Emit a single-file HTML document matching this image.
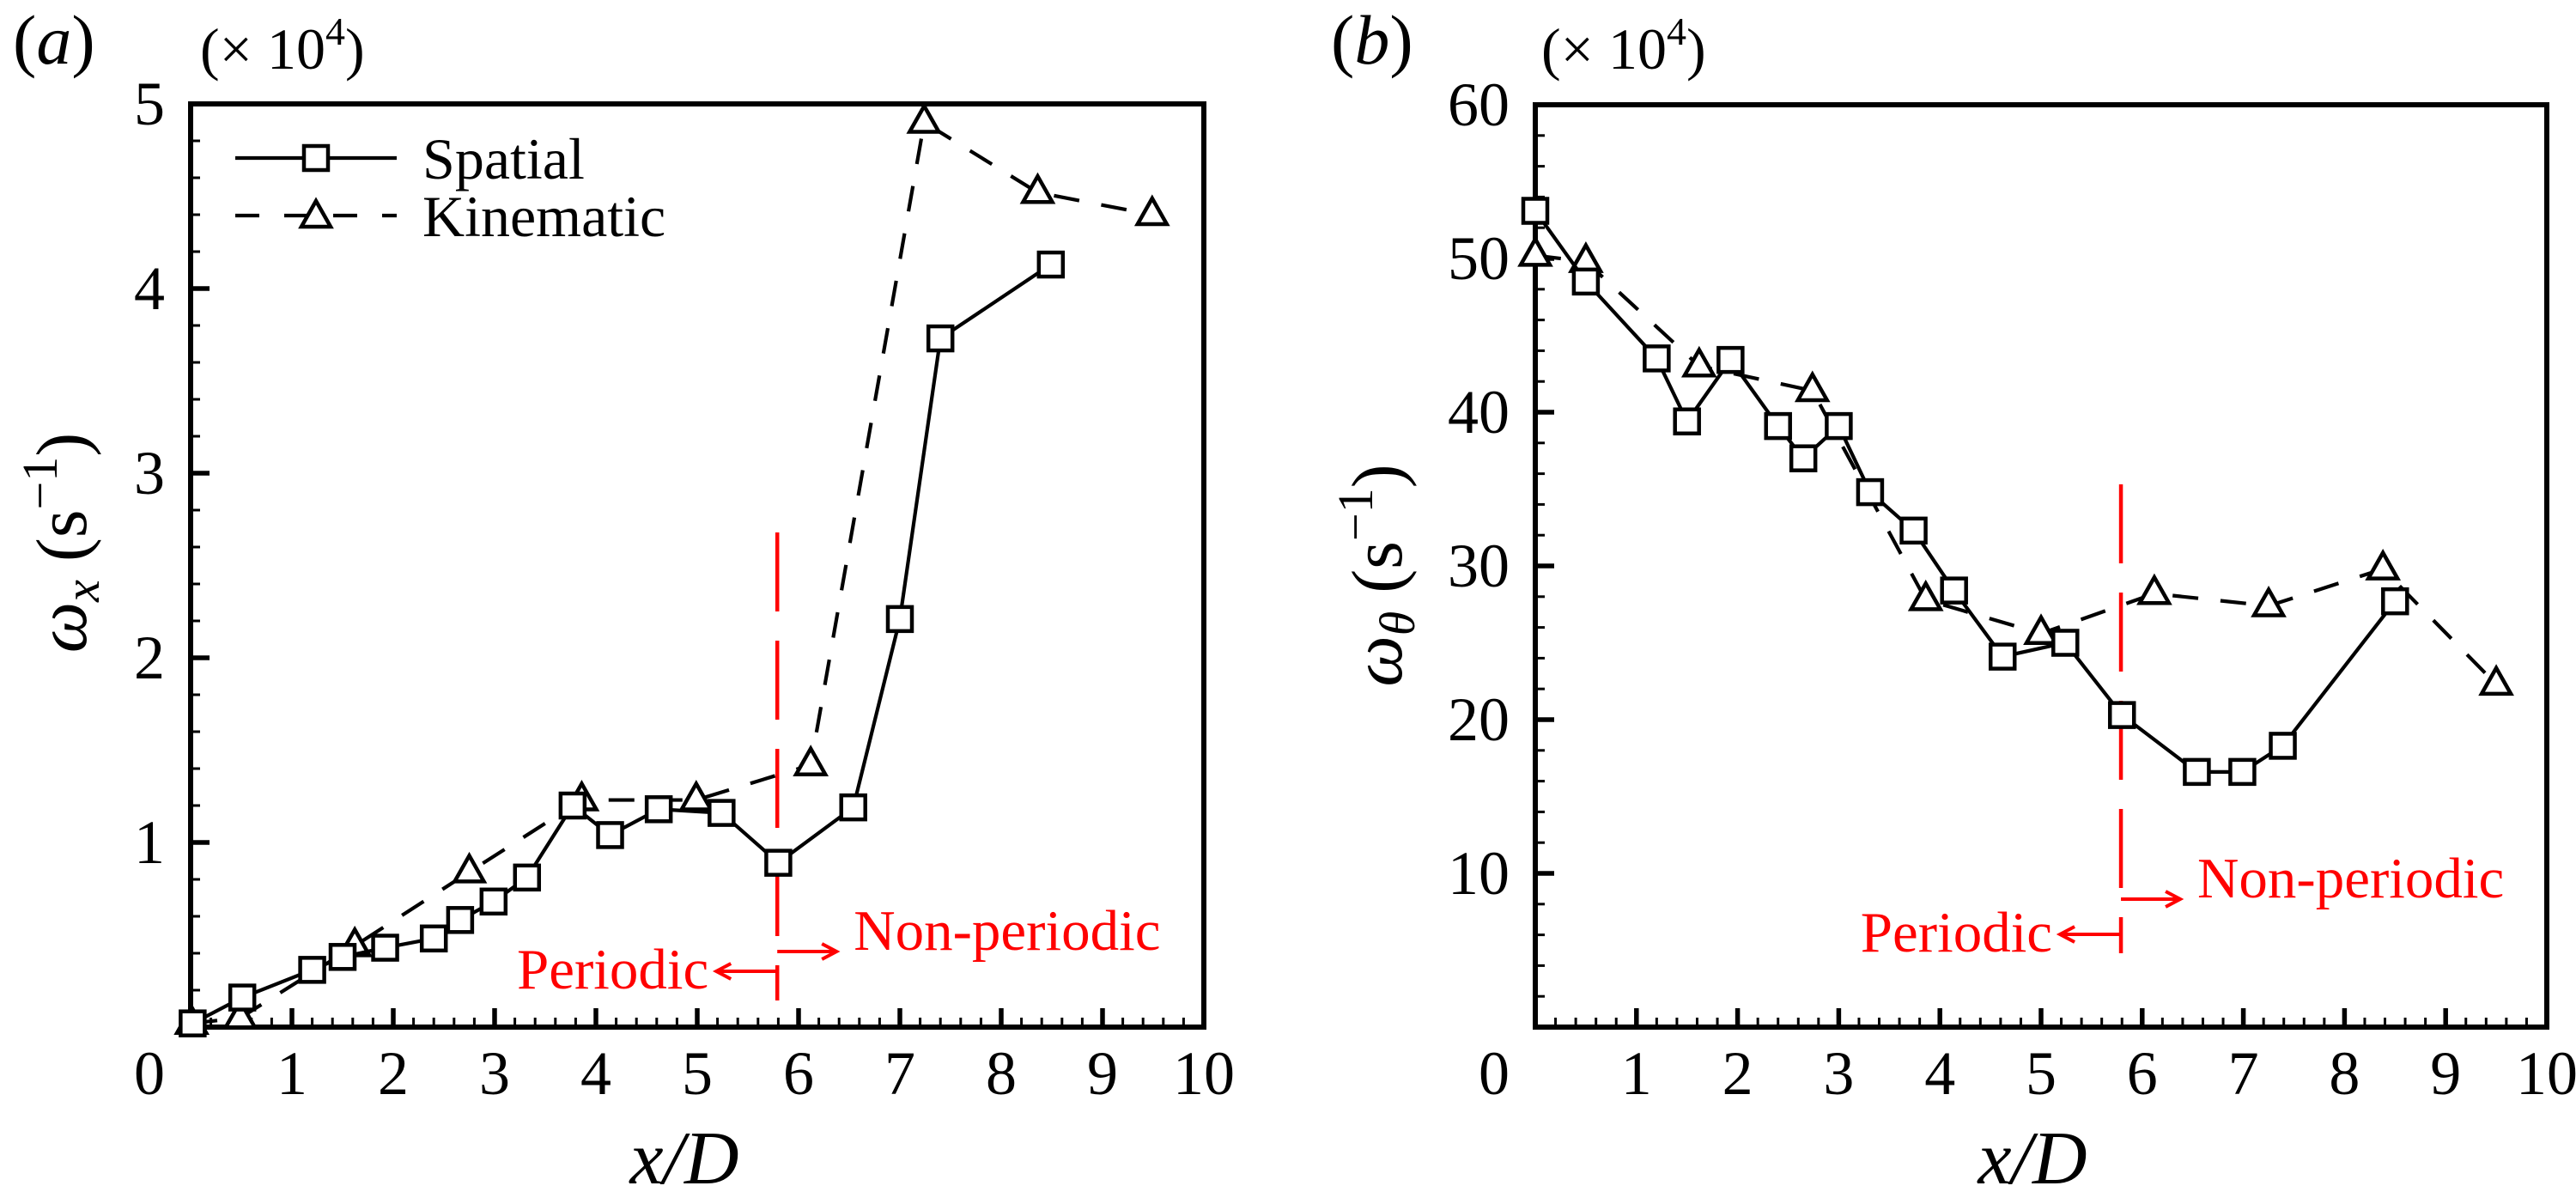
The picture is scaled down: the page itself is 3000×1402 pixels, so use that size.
<!DOCTYPE html>
<html><head><meta charset="utf-8"><style>
html,body{margin:0;padding:0;background:#fff;}
svg{display:block;font-family:"Liberation Serif","Times New Roman",serif;}
text{font-family:"Liberation Serif","Times New Roman",serif;}
</style></head><body>
<svg id="fig" width="3000" height="1402" viewBox="0 0 3000 1402" xmlns="http://www.w3.org/2000/svg" font-family="Liberation Serif, serif"></svg>
<script>
// ---------- data ----------
const aSpatialX = [0.02,0.51,1.20,1.50,1.92,2.40,2.66,2.99,3.32,3.77,4.14,4.62,5.24,5.80,6.54,7.00,7.40,8.49];
const aSpatialY = [0.02,0.16,0.31,0.38,0.43,0.48,0.58,0.68,0.81,1.20,1.04,1.18,1.16,0.89,1.19,2.21,3.73,4.13];
const aKinX = [0.01,0.49,1.62,2.75,3.86,4.99,6.12,7.24,8.36,9.49];
const aKinY = [0.02,0.05,0.44,0.84,1.23,1.23,1.42,4.90,4.52,4.40];
const bSpatialX = [0.0,0.50,1.20,1.50,1.93,2.40,2.65,3.00,3.31,3.74,4.14,4.62,5.24,5.80,6.54,6.99,7.39,8.50];
const bSpatialY = [53.1,48.5,43.5,39.4,43.4,39.1,37.0,39.1,34.8,32.3,28.4,24.1,25.0,20.3,16.6,16.6,18.3,27.7];
const bKinX = [0.0,0.5,1.62,2.74,3.86,5.00,6.12,7.25,8.38,9.50];
const bKinY = [50.2,49.8,43.0,41.4,27.8,25.6,28.2,27.4,29.8,22.3];
const xTicks = [0,1,2,3,4,5,6,7,8,9,10];
const aYTicks = [1,2,3,4,5];
const bYTicks = [10,20,30,40,50,60];
const dividerX = 5.79;

const NS="http://www.w3.org/2000/svg";
const svg=document.getElementById('fig');
function el(tag,attrs,parent){const e=document.createElementNS(NS,tag);for(const k in attrs)e.setAttribute(k,attrs[k]);if(tag==='text')e.setAttribute('font-family','Liberation Serif, serif');(parent||svg).appendChild(e);return e;}

function panel(cfg){
  const g=el('g',{});
  
  
  const L=cfg.L,R=cfg.R,T=cfg.T,B=cfg.B;
  const sx=v=>L+(R-L)*(v-0)/10;
  const sy=v=>B-(B-T)*(v-0)/cfg.ymax;
  const fr=el('rect',{x:L,y:T,width:R-L,height:B-T,fill:'none',stroke:'#000','stroke-width':6},g);
  
  
  for(let i=0;i<=50;i++){const v=i*0.2;const x=sx(v);const maj=i%5===0;
    if(i===0||i===50)continue;
    const t=el('line',{x1:x,x2:x,y1:B,y2:B-(maj?22:11),stroke:'#000','stroke-width':maj?5.5:3},g);
    
    }
  xTicks.forEach(v=>{const t=el('text',{x:v===0?cfg.ylabRight:sx(v),y:1274,'font-size':72,'text-anchor':v===0?'end':'middle'},g);t.textContent=v;
    
    });
  const nMinor=cfg.ymax/cfg.minor;
  for(let i=1;i<nMinor;i++){const v=i*cfg.minor;const y=sy(v);const maj=Math.abs(v/cfg.major-Math.round(v/cfg.major))<1e-6;
    const t=el('line',{x1:L,x2:L+(maj?22:11),y1:y,y2:y,stroke:'#000','stroke-width':maj?5.5:3},g);
    
    }
  cfg.yticks.forEach(v=>{const t=el('text',{x:cfg.ylabRight,y:sy(v)+24,'font-size':72,'text-anchor':'end'},g);t.textContent=v;
    
    });
  const pl=el('text',{x:cfg.plX,y:74,'font-size':82},g);pl.innerHTML='(<tspan font-style="italic">'+cfg.letter+'</tspan>)';
  
  
  const mu=el('text',{x:cfg.muX,y:80,'font-size':68},g);mu.innerHTML='(× 10<tspan dy="-28" font-size="46">4</tspan><tspan dy="28">)</tspan>';
  
  
  const yt=el('text',{x:0,y:0,'font-size':84,'text-anchor':'middle',transform:`translate(${cfg.ytX},${cfg.ytY}) rotate(-90)`},g);
  yt.innerHTML='<tspan font-style="italic">ω</tspan><tspan font-style="italic" font-size="58" dy="15">'+cfg.sub+'</tspan><tspan dy="-15"> (s</tspan><tspan font-size="58" dy="-34">−1</tspan><tspan dy="34">)</tspan>';
  
  
  const xt=el('text',{x:cfg.xtX,y:1378,'font-size':88,'text-anchor':'middle','font-style':'italic'},g);xt.textContent='x/D';
  
  
  const dx=sx(dividerX);
  const dv=el('line',{x1:dx,x2:dx,y1:cfg.divTop,y2:cfg.divBot,stroke:'#f00','stroke-width':4.5,'stroke-dasharray':'92 34'},g);
  
  
  const ar=el('path',{d:`M${dx},${cfg.arR} H${dx+66} M${dx+52},${cfg.arR-9} L${dx+69},${cfg.arR} L${dx+52},${cfg.arR+9} M${dx},${cfg.arL} H${dx-68} M${dx-54},${cfg.arL-9} L${dx-71},${cfg.arL} L${dx-54},${cfg.arL+9}`,stroke:'#f00','stroke-width':4,fill:'none'},g);
  
  
  const np=el('text',{x:dx+89,y:cfg.arR-2,'font-size':67,fill:'#f00'},g);np.textContent='Non-periodic';
  
  
  const pp=el('text',{x:dx-80,y:cfg.arL+20,'font-size':67,fill:'#f00','text-anchor':'end'},g);pp.textContent='Periodic';
  
  
  function series(xs,ys,dashed,marker,name){
    const pts=xs.map((x,i)=>sx(x)+','+sy(ys[i])).join(' ');
    const pl=el('polyline',{points:pts,fill:'none',stroke:'#000','stroke-width':4.2,'stroke-dasharray':dashed?'30 26':'none'},g);
    
    
    xs.forEach((x,i)=>{const cx=sx(x),cy=sy(ys[i]);let m;
      if(marker==='sq')m=el('rect',{x:cx-14,y:cy-14,width:28,height:28,fill:'#fff',stroke:'#000','stroke-width':4.5},g);
      else m=el('path',{d:`M${cx},${cy-19} L${cx+17},${cy+11} L${cx-17},${cy+11} Z`,fill:'#fff',stroke:'#000','stroke-width':4.5},g);
      
      });
  }
  series(cfg.kx,cfg.ky,true,'tri','kinematic');
  series(cfg.spx,cfg.spy,false,'sq','spatial');
}
panel({name:'panel-a',L:222,R:1402,T:121,B:1196,ymax:5,minor:0.2,major:1,yticks:aYTicks,ylabRight:192,letter:'a',plX:15,muX:233,
  sub:'x',ytX:100,ytY:632,xtX:797,divTop:620,divBot:1165,arR:1108,arL:1131,spx:aSpatialX,spy:aSpatialY,kx:aKinX,ky:aKinY});
panel({name:'panel-b',L:1788,R:2966,T:122,B:1196,ymax:60,minor:2,major:10,yticks:bYTicks,ylabRight:1758,letter:'b',plX:1550,muX:1795,
  sub:'θ',ytX:1632,ytY:670,xtX:2367,divTop:564,divBot:1110,arR:1047,arL:1088,spx:bSpatialX,spy:bSpatialY,kx:bKinX,ky:bKinY});
const lg=el('g',{});


const l1=el('line',{x1:274,x2:462,y1:184,y2:184,stroke:'#000','stroke-width':4.2},lg);


const s1=el('rect',{x:354,y:170,width:28,height:28,fill:'#fff',stroke:'#000','stroke-width':4.5},lg);


const t1=el('text',{x:492,y:208,'font-size':68},lg);t1.textContent='Spatial';


const l2=el('line',{x1:274,x2:462,y1:251,y2:251,stroke:'#000','stroke-width':4.2,'stroke-dasharray':'28 29'},lg);


const s2=el('path',{d:'M368,234 L385,264 L351,264 Z',fill:'#fff',stroke:'#000','stroke-width':4.5},lg);


const t2=el('text',{x:492,y:275,'font-size':68},lg);t2.textContent='Kinematic';


</script>
</body></html>
